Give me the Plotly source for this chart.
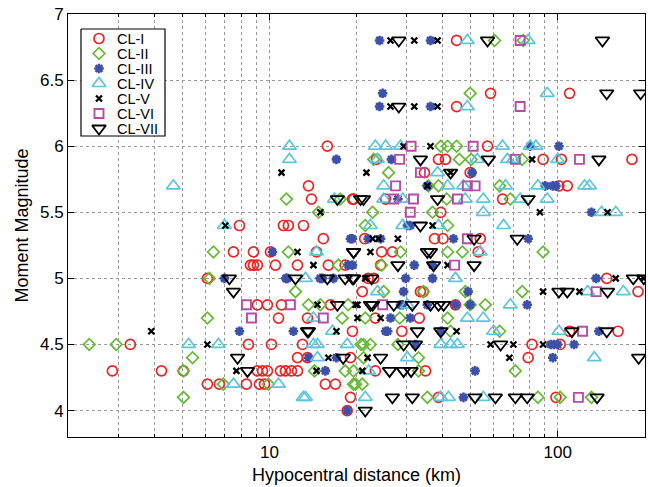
import plotly.graph_objects as go

# ---------------- data (hypocentral distance km, moment magnitude) ----------------
cl1_r = [2.85,3.29,4.22,5.03,6.09,6.70,8.32,9.23,9.61,8.45,10.16,9.08,9.46,9.84,10.92,11.36,11.92,12.51,
         12.51,13.55,13.02,15.63,16.94,19.10,19.10,18.61,19.41,13.66,13.99,19.41,7.87,11.18,11.63,13.12,15.38,
         7.50,8.80,10.08,14.56,8.59,8.80,9.08,10.49,12.51,16.01,18.31,6.09,9.08,9.84,11.01,16.27,10.75,13.55,
         15.88,44.6,58.5,44.6,110,57.1,23.5,38.6,40.8,89,103,181,34.5,49.7,101,108,19.6,64.4,25.3,39.3,21.4,
         37.4,40.0,53.9,24.5,26.7,53.0,24.3,148,21.0,33.4,34.2,190,44.2,23.3,33.1,28.8,110,162,81.5,102,79.0,
         23.3,34.8,38.6,98.6,22.0,23.0]
cl1_m = [4.3,4.5,4.3,4.3,4.2,4.2,4.2,4.2,4.2,4.5,4.5,4.3,4.3,4.3,4.3,4.3,4.3,4.3,
         4.4,4.4,4.5,4.2,4.2,4.4,4.1,4.0,4.6,5.7,5.6,5.6,5.4,5.4,5.4,5.4,5.3,
         5.2,5.2,5.2,5.2,5.1,5.1,5.1,5.1,5.1,5.1,5.1,5.0,4.8,4.8,4.8,4.8,4.7,4.7,
         6.0,6.8,6.4,6.3,6.4,6.0,5.9,5.9,5.9,5.9,5.9,5.9,5.8,5.8,5.7,5.7,5.6,5.6,5.6,5.5,5.3,
         5.3,5.3,5.3,5.2,5.2,5.2,5.1,5.0,4.9,4.9,4.9,4.9,4.8,4.7,4.7,4.6,4.6,4.6,4.5,4.5,4.4,
         4.3,4.3,4.1,4.1,5.0,5.0]

cl2_r = [2.37,2.94,5.41,5.03,5.03,6.92,9.92,14.33,18.31,19.57,19.57,6.09,11.45,6.39,11.63,14.79,6.19,12.31,
         13.66,15.02,18.76,17.35,17.87,60.4,75.9,49.7,39.3,41.5,44.6,23.0,45.6,50.1,75.3,25.9,62.9,38.6,35.6,
         68.5,41.2,22.8,36.8,21.5,41.5,28.5,41.5,46.7,89.0,24.5,24.9,34.2,47.8,75.3,56.1,49.7,21.5,28.3,41.5,
         62.9,21.2,22.4,27.9,42.5,21.2,32.9,32.9,71.3,19.9,21.0,35.3,85.4,102,131,17.6,20.8]
cl2_m = [4.5,4.5,4.4,4.3,4.1,4.2,4.2,4.3,4.3,4.3,4.2,4.7,5.6,5.2,5.2,5.5,5.0,4.9,
         4.8,4.8,4.8,5.1,4.7,6.8,6.8,6.4,6.0,6.0,6.0,5.9,5.9,5.9,5.9,5.8,5.7,5.7,5.7,
         5.6,5.6,5.5,5.5,5.4,5.4,5.2,5.2,5.2,5.2,5.1,4.9,4.9,4.9,4.9,4.8,4.8,4.7,4.7,4.7,
         4.6,4.5,4.5,4.5,4.6,4.4,4.4,4.3,4.3,4.2,4.2,4.1,4.1,4.1,4.1,5.6,4.5]

cl3_r = [7.87,12.11,13.66,17.07,15.63,18.61,10.24,19.10,18.76,6.98,11.54,15.26,16.67,17.07,24.1,36.2,24.7,
         24.1,36.2,26.5,101,50.5,35.3,90.5,96.2,98.6,80.3,30.8,19.4,24.3,43.5,79.0,31.8,36.8,19.4,29.7,36.8,
         29.2,48.9,28.5,44.2,49.7,78.4,26.3,30.8,25.3,131,136,139,94.6,97.0,100,114,96.2,51.7,47.1,25.7,39.3,
         22.0,29.0,35.3,32.1,27.9,30.1,11.4,15.0]
cl3_m = [4.6,4.6,4.4,4.4,4.3,4.0,5.2,5.3,5.1,5.0,5.0,5.0,5.0,5.9,6.8,6.8,6.4,
         6.3,6.3,5.9,6.0,5.8,5.7,5.7,5.7,5.7,6.0,5.4,5.3,5.3,5.3,5.3,5.1,5.1,5.1,5.0,5.0,
         4.9,4.9,4.8,4.8,4.8,4.8,4.7,4.7,4.6,5.5,5.0,4.6,4.5,4.5,4.5,4.5,4.4,4.3,4.1,4.6,4.6,
         5.3,4.8,4.8,4.5,5.6,5.4,5.0,5.0]

cl4_r = [4.64,11.73,11.73,16.80,6.98,14.56,13.34,14.21,16.54,5.24,6.65,7.50,10.75,13.34,14.21,14.67,14.67,
         18.61,48.6,79.0,48.6,92.0,23.3,25.3,28.5,64.4,80.3,84.0,23.7,52.6,66.9,70.2,100,38.3,24.9,41.5,47.1,
         65.9,85.4,124,129,24.9,29.0,47.8,55.2,74.1,92.0,55.2,142,159,22.4,29.0,38.6,64.9,53.9,44.2,23.7,127,
         169,30.1,68.5,48.6,55.2,59.9,101,21.5,39.3,41.8,55.2,134,39.3,42.5,44.9,30.1,13.1,22.1]
cl4_m = [5.7,6.0,5.9,5.6,5.4,5.2,5.0,4.7,4.6,4.5,4.5,4.2,4.2,4.1,4.5,4.5,4.4,
         4.5,6.8,6.8,6.3,6.4,6.0,6.0,6.0,6.0,6.0,6.0,5.9,5.9,5.9,5.9,5.9,5.8,5.7,5.7,5.7,
         5.7,5.7,5.7,5.7,5.6,5.6,5.6,5.6,5.6,5.6,5.5,5.5,5.5,5.4,5.4,5.4,5.4,5.2,5.0,4.9,4.9,
         4.9,4.8,4.8,4.7,4.7,4.6,4.6,4.1,4.1,4.1,4.1,4.4,4.5,4.5,4.5,4.4,4.1,4.3]

cl5_r = [3.89,6.09,7.68,14.56,16.01,17.07,7.03,12.51,14.21,15.02,14.67,20.2,19.9,11.01,26.3,31.8,38.3,
         26.3,31.8,38.3,21.7,36.2,29.2,81.5,42.5,35.3,86.8,149,36.8,27.9,22.8,22.4,41.5,21.5,159,89.0,119,
         20.2,24.3,44.6,58.5,70.2,89.0,68.0,21.0,21.9,23.9,199]
cl5_m = [4.6,4.5,4.3,4.3,4.4,4.6,5.4,5.2,5.1,5.5,4.8,4.7,4.8,5.8,6.8,6.8,6.8,
         6.3,6.3,6.3,5.8,6.0,6.0,5.9,5.8,5.7,5.5,5.5,5.4,5.3,5.3,5.2,5.1,5.0,5.0,4.9,4.9,
         4.8,4.7,4.6,4.5,4.5,4.5,4.4,4.3,4.4,5.3,5.0]

cl6_r = [8.32,11.82,8.66,15.38,74.1,74.1,31.0,50.9,28.3,71.3,119,33.4,27.4,48.6,51.7,31.6,27.0,44.9,
         30.8,48.6,43.9,24.7,122,136,118]
cl6_m = [4.8,4.8,4.7,4.7,6.8,6.3,6.0,6.0,5.9,5.9,5.9,5.8,5.7,5.7,5.7,5.6,5.6,5.6,
         5.5,5.3,5.1,4.8,4.6,4.9,4.1]

cl7_r = [7.75,8.39,13.55,18.02,7.26,7.50,12.31,15.88,18.31,19.41,17.21,13.66,19.57,17.21,28.1,57.1,143,
         28.1,148,194,33.4,57.5,139,42.5,20.7,38.3,79.0,21.2,33.4,72.4,51.3,36.2,19.6,27.9,37.1,51.3,19.6,
         22.6,183,199,101,108,149,22.8,27.0,31.3,36.2,38.6,32.6,39.3,112,148,29.2,32.1,63.4,24.3,191,26.1,
         29.2,31.0,26.7,31.3,51.7,60.8,71.3,78.4,137,21.5,35.3,22.4,40.2]
cl7_m = [4.4,4.3,4.6,4.4,5.0,4.9,5.0,5.0,5.0,5.0,4.8,4.6,5.2,5.6,6.8,6.8,6.8,
         6.3,6.4,6.4,5.9,5.9,5.9,5.8,5.6,5.6,5.6,5.6,5.4,5.3,5.3,5.2,5.2,5.1,5.1,5.1,5.0,
         5.0,5.0,5.0,4.9,4.9,4.9,4.8,4.8,4.8,4.8,4.8,4.6,4.6,4.6,4.6,4.5,4.5,4.5,4.4,4.4,4.3,
         4.3,4.3,4.1,4.1,4.1,4.1,4.1,4.1,4.1,4.0,5.2,4.8,4.8]

names = ["CL-I", "CL-II", "CL-III", "CL-IV", "CL-V", "CL-VI", "CL-VII"]
x_ticks = [10, 100]
y_ticks = [4, 4.5, 5, 5.5, 6, 6.5, 7]

# ---------------- styling ----------------
styles = [
    dict(symbol="circle-open", color="#ee2424", size=10, lw=1.7),
    dict(symbol="diamond-open", color="#66bb33", size=9, lw=1.7),
    dict(symbol="asterisk-open", color="#3b50a6", size=8, lw=2.6),
    dict(symbol="triangle-up-open", color="#5cc6dc", size=12, lw=1.7),
    dict(symbol="x-thin-open", color="#000000", size=6, lw=2.3),
    dict(symbol="square-open", color="#b54da6", size=9, lw=1.9),
    dict(symbol="triangle-down-open", color="#000000", size=12, lw=1.8),
]
series = [(cl1_r, cl1_m), (cl2_r, cl2_m), (cl3_r, cl3_m), (cl4_r, cl4_m),
          (cl5_r, cl5_m), (cl6_r, cl6_m), (cl7_r, cl7_m)]

W, H = 648, 487
L, R, T, B = 68, 3, 14, 50
px_left, px_right = L, W - R
px_top, px_bottom = T, H - B

fig = go.Figure()
for name, (xs, ys), st in zip(names, series, styles):
    fig.add_trace(go.Scatter(
        x=xs, y=ys, mode="markers", name=name, showlegend=False,
        xaxis="x", yaxis="y",
        marker=dict(symbol=st["symbol"], size=st["size"], color=st["color"],
                    line=dict(width=st["lw"], color=st["color"])),
    ))

# ---------------- custom compact legend (pixel-space overlay axes) ----------------
bx0, bx1, by0, by1 = 81, 165, 29, 136
leg_marker_x = 99
leg_text_x = 115
leg_row0 = 38.5
leg_step = 15.0
leg_rows = [leg_row0 + i * leg_step for i in range(len(names))]

fig.add_trace(go.Scatter(
    x=[bx0, bx1, bx1, bx0, bx0], y=[by0, by0, by1, by1, by0],
    xaxis="x2", yaxis="y2", mode="lines", fill="toself", fillcolor="white",
    line=dict(color="black", width=1.2), showlegend=False, hoverinfo="skip",
))
for name, st, ry in zip(names, styles, leg_rows):
    fig.add_trace(go.Scatter(
        x=[leg_marker_x], y=[ry], xaxis="x2", yaxis="y2", mode="markers",
        showlegend=False, hoverinfo="skip",
        marker=dict(symbol=st["symbol"], size=st["size"], color=st["color"],
                    line=dict(width=st["lw"], color=st["color"])),
    ))
    fig.add_annotation(x=leg_text_x, y=ry, xref="x2", yref="y2", text=name,
                       showarrow=False, xanchor="left", yanchor="middle",
                       font=dict(size=14.5, color="black"))

font_family = "Liberation Sans, Arial, Helvetica, sans-serif"
minor_vals = [2, 3, 4, 5, 6, 7, 8, 9, 20, 30, 40, 50, 60, 70, 80, 90, 200]
grid_col = "#9a9a9a"

fig.update_layout(
    width=W, height=H,
    margin=dict(l=L, r=R, t=T, b=B),
    paper_bgcolor="white", plot_bgcolor="white",
    font=dict(family=font_family, size=14, color="black"),
    showlegend=False,
    xaxis=dict(
        type="log", range=[0.301, 2.303],
        tickvals=x_ticks, ticktext=[str(v) for v in x_ticks],
        ticks="inside", ticklen=6, tickcolor="black",
        showline=True, linecolor="black", linewidth=1, mirror="ticks",
        showgrid=True, gridcolor=grid_col, griddash="dot", gridwidth=1,
        minor=dict(tickvals=minor_vals, ticks="inside", ticklen=3, tickcolor="black",
                   showgrid=True, gridcolor=grid_col, griddash="dot", gridwidth=1),
        zeroline=False,
        title=dict(text="Hypocentral distance (km)", font=dict(size=18), standoff=6),
        tickfont=dict(size=17),
    ),
    yaxis=dict(
        range=[3.8, 7.0],
        tickvals=y_ticks, ticktext=["4", "4.5", "5", "5.5", "6", "6.5", "7"],
        ticks="inside", ticklen=6, tickcolor="black",
        showline=True, linecolor="black", linewidth=1, mirror="ticks",
        showgrid=True, gridcolor=grid_col, griddash="dot", gridwidth=1,
        zeroline=False,
        title=dict(text="Moment Magnitude", font=dict(size=18), standoff=6),
        tickfont=dict(size=17),
    ),
    xaxis2=dict(overlaying="x", range=[px_left, px_right], visible=False,
                fixedrange=True, showgrid=False, zeroline=False),
    yaxis2=dict(overlaying="y", range=[px_bottom, px_top], visible=False,
                fixedrange=True, showgrid=False, zeroline=False),
)

fig.write_html("out.html")
